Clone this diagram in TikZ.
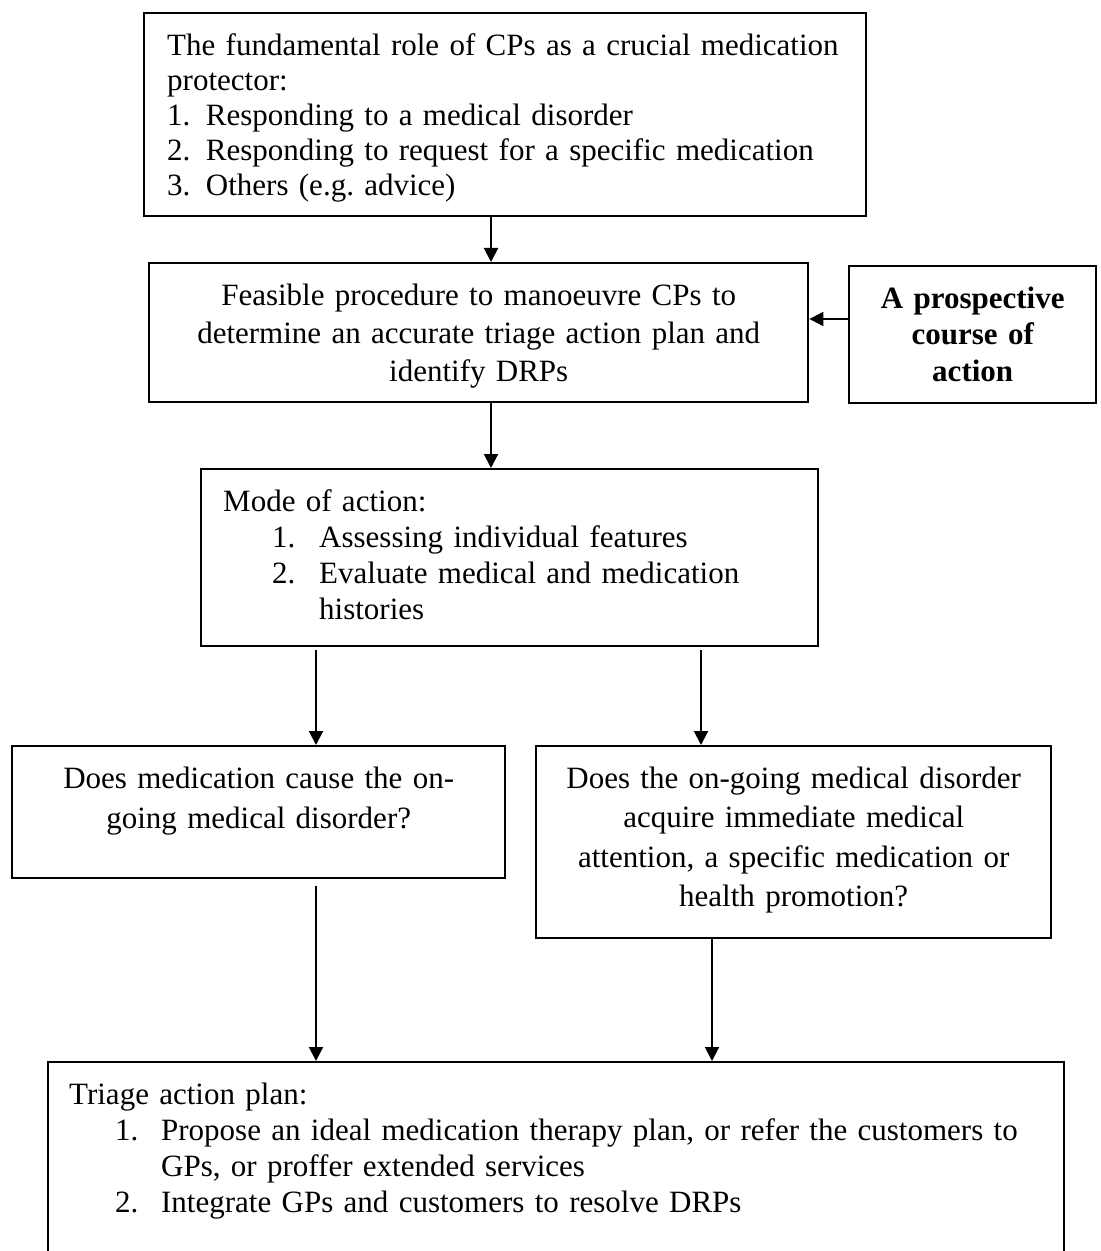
\documentclass[tikz,border=0pt]{standalone}
\usepackage{fontspec}
\setmainfont{Liberation Serif}
\usetikzlibrary{arrows.meta}
\tikzset{
    box/.style={draw, line width=1.2pt, anchor=north west, inner ysep=0pt,
      inner xsep=5pt, text height=21pt, font=\fontsize{15.5}{18}\selectfont},
    arr/.style={line width=1pt, -{Triangle[length=7pt,width=7pt]}},
  }

\begin{document}
\begin{tikzpicture}[x=0.5pt,y=-0.5pt]
				  %cadre (pixels de la figure)
				  \useasboundingbox (0,0) rectangle (1101,1251);

				  %COLONNES et LIGNE des fleches
				  \coordinate (colmid) at (491,0);
				  \coordinate (colleft) at (316,0);
				  \coordinate (colright) at (701,0);
				  \coordinate (colright2) at (712,0);
				  \coordinate (rowside) at (0,319);

				  %ROLE
				  \node[box, align=left, inner xsep=11.5pt, text width=338pt, text depth=80.5pt,
				        font=\fontsize{15.5}{17.5}\selectfont] (role) at (143,12)
				   {The fundamental role of CPs as a crucial medication\\
				    protector:\\
				    1. Responding to a medical disorder\\
				    2. Responding to request for a specific medication\\
				    3. Others (e.g.\ advice)};

				  %PROCEDURE, course of action
				  \node[box, align=center, text width=319.5pt, text depth=48.5pt,
				        font=\fontsize{15.5}{19}\selectfont] (feasible) at (148,262)
				   {Feasible procedure to manoeuvre CPs to\\
				    determine an accurate triage action plan and\\
				    identify DRPs};
				  \node[box, align=center, text width=113.5pt, text depth=47.5pt,
				        font=\fontsize{15.5}{18.25}\selectfont\bfseries] (prosp) at (848,265)
				   {A prospective\\ course of\\ action};

				  %MODE
				  \node[box, align=left, inner xsep=11pt, text width=286.5pt, text depth=67.5pt] (mode) at (200,468)
				   {Mode of action:\\
				    \hspace*{24.5pt}\makebox[23.5pt][l]{1.}Assessing individual features\\
				    \hspace*{24.5pt}\makebox[23.5pt][l]{2.}Evaluate medical and medication\\
				    \hspace*{48pt}histories};

				  %QUESTIONS
				  \node[box, align=center, text width=236.5pt, text depth=45pt,
				        font=\fontsize{15.5}{20}\selectfont] (leftq) at (11,745)
				   {Does medication cause the on-\\
				    going medical disorder?};
				  \node[box, align=center, text width=247.5pt, text depth=75pt,
				        font=\fontsize{15.5}{19.75}\selectfont] (rightq) at (535,745)
				   {Does the on-going medical disorder\\
				    acquire immediate medical\\
				    attention, a specific medication or\\
				    health promotion?};

				  %PLAN
				  \node[box, align=left, inner xsep=10.5pt, text width=487pt, text depth=84pt] (plan) at (47,1061)
				   {Triage action plan:\\
				    \hspace*{23pt}\makebox[23pt][l]{1.}Propose an ideal medication therapy plan, or refer the customers to\\
				    \hspace*{46pt}GPs, or proffer extended services\\
				    \hspace*{23pt}\makebox[23pt][l]{2.}Integrate GPs and customers to resolve DRPs};

				  %FLECHES
				  \draw[arr] (role.south -| colmid) -- (feasible.north -| colmid);
				  \draw[arr] (prosp.west |- rowside) -- (feasible.east |- rowside);
				  \draw[arr] (feasible.south -| colmid) -- (mode.north -| colmid);
				  \draw[arr, shorten <=1.5pt] (mode.south -| colleft) -- (leftq.north -| colleft);
				  \draw[arr, shorten <=1.5pt] (mode.south -| colright) -- (rightq.north -| colright);
				  \draw[arr, shorten <=3.5pt] (leftq.south -| colleft) -- (plan.north -| colleft);
				  \draw[arr] (rightq.south -| colright2) -- (plan.north -| colright2);

				  \end{tikzpicture}
\end{document}
